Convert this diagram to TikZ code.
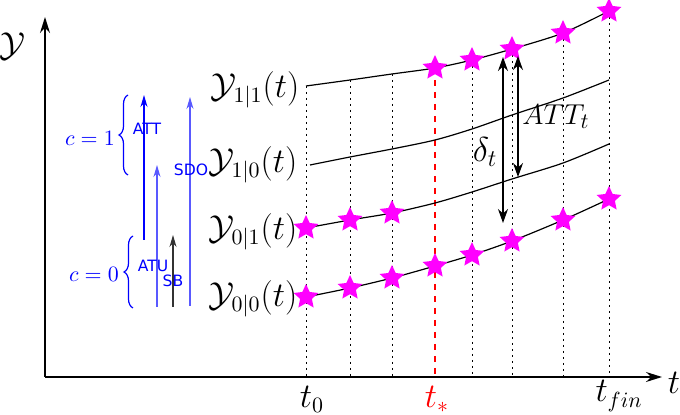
\documentclass[tikz,border=0pt]{standalone}
\usepackage{amsmath}
\usepackage{fontspec}
\newfontfamily\vera{DejaVu Sans}
\usetikzlibrary{arrows.meta,shapes.geometric,decorations.pathreplacing}
\definecolor{starc}{RGB}{255,0,255}

\begin{document}
\begin{tikzpicture}[x=0.5pt,y=-0.5pt,
  ax/.style={-{Stealth[length=8pt,width=5pt]},line width=0.7pt},
  crv/.style={line width=0.6pt},
  guide/.style={line width=0.5pt,dash pattern=on 0.8pt off 2.2pt},
  tstar/.style={star,star points=5,star point ratio=2.1,fill=starc,inner sep=0pt,minimum size=13pt},
  gap/.style={{Stealth[length=7pt,width=5pt]}-{Stealth[length=7pt,width=5pt]},line width=0.6pt},
  lbl/.style={font=\fontsize{16}{19}\selectfont,inner sep=1pt},
  glbl/.style={font=\fontsize{15}{18}\selectfont,inner sep=1pt},
  grp/.style={blue,font=\vera\fontsize{7.8}{9}\selectfont,inner sep=0.5pt},
  up/.style={-{Stealth[length=6pt,width=3.5pt]},line width=0.6pt},
  brc/.style={blue,line width=0.6pt,decorate,decoration={brace,amplitude=4.5pt}}]
\useasboundingbox (0,0) rectangle (680,415);
% axes
\coordinate (o) at (45,377);
\coordinate (ytip) at (45,17);
\coordinate (xtip) at (662,377);
\draw[ax] (o) -- (ytip);
\draw[ax] (o) -- (xtip);
\node[lbl,font=\fontsize{18}{21}\selectfont] (ylab) at (12,46) {$\mathcal{Y}$};
\node[lbl] (tlab) at (674,383) {$t$};
% points of the four curves
\foreach \x/\ya/\yb/\yc/\yd [count=\i] in {306/86/165/228/297,350/80/157/220/288,392/74/149/213/278,
    435/68/140/203/266,472/60/129/192/255,512/49/115/179/241,563/33/98/163/220,609/11/80/144/199}{
  \coordinate (g\i) at (\x,\ya);
  \coordinate (u\i) at (\x,\yb);
  \coordinate (v\i) at (\x,\yc);
  \coordinate (w\i) at (\x,\yd);
  \coordinate (b\i) at (\x,377);
}
\coordinate (u0) at (310,165);
\foreach \i in {1,2,3,5,6,7,8}
  \draw[guide] (g\i) -- (b\i);
\draw[red,dashed,line width=1pt] (g4) -- (b4);
\draw[crv] plot[smooth] coordinates {(g1) (g2) (g3) (g4) (g5) (g6) (g7) (g8)};
\draw[crv] plot[smooth] coordinates {(u0) (u2) (u3) (u4) (u5) (u6) (u7) (u8)};
\draw[crv] plot[smooth] coordinates {(v1) (v2) (v3) (v4) (v5) (v6) (v7) (v8)};
\draw[crv] plot[smooth] coordinates {(w1) (w2) (w3) (w4) (w5) (w6) (w7) (w8)};
\foreach \i in {4,...,8}
  \node[tstar] (sg\i) at (g\i) {};
\foreach \i in {1,2,3}
  \node[tstar] (sv\i) at (v\i) {};
\foreach \i in {1,...,8}
  \node[tstar] (sw\i) at (w\i) {};
% curve names
\node[lbl] (y11) at (255,90) {$\mathcal{Y}_{1|1}(t)$};
\node[lbl] (y10) at (253,165) {$\mathcal{Y}_{1|0}(t)$};
\node[lbl] (y01) at (253,232) {$\mathcal{Y}_{0|1}(t)$};
\node[lbl] (y00) at (253,299) {$\mathcal{Y}_{0|0}(t)$};
% ticks
\node[lbl] (t0) at (312,399) {$t_0$};
\node[lbl,red] (tst) at (437,399) {$t_*$};
\node[lbl] (tfin) at (619,396) {$t_{fin}$};
% effects
\coordinate (d1) at (503,223);
\coordinate (d2) at (503,57);
\coordinate (a1) at (518,177);
\coordinate (a2) at (518,56);
\draw[gap] (d1) -- (d2);
\draw[gap] (a1) -- (a2);
\node[glbl,font=\fontsize{17}{20}\selectfont] (dlt) at (485,152) {$\delta_t$};
\node[glbl] (att) at (556,117) {$ATT_t$};
% legend of the groups
\coordinate (p1) at (144,240);
\coordinate (q1) at (144,95);
\coordinate (p2) at (157,307);
\coordinate (q2) at (157,165);
\coordinate (p3) at (190,306);
\coordinate (q3) at (190,97);
\coordinate (p4) at (173,307);
\coordinate (q4) at (173,235);
\draw[up,blue] (p1) -- (q1);
\draw[up,blue!65] (p2) -- (q2);
\draw[up,blue!65] (p3) -- (q3);
\draw[up,black!80] (p4) -- (q4);
\coordinate (c1a) at (128,175);
\coordinate (c1b) at (128,95);
\coordinate (c0a) at (133,308);
\coordinate (c0b) at (133,236);
\draw[brc] (c1a) -- (c1b);
\draw[brc] (c0a) -- (c0b);
\node[blue,font=\fontsize{11}{13}\selectfont] (c1) at (90,138) {$c=1$};
\node[blue,font=\fontsize{11}{13}\selectfont] (c0) at (94,274) {$c=0$};
\node[grp] (gatt) at (147,129) {ATT};
\node[grp] (gsdo) at (191,170) {SDO};
\node[grp] (gatu) at (153,266) {ATU};
\node[grp] (gsb) at (173,281) {SB};
\end{tikzpicture}
\end{document}
